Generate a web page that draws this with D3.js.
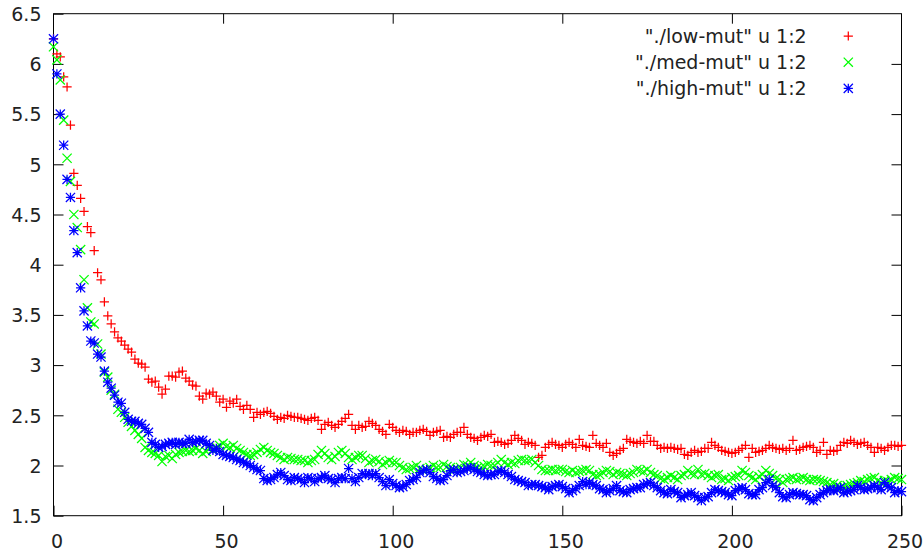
<!DOCTYPE html>
<html>
<head>
<meta charset="utf-8">
<script src="https://cdn.jsdelivr.net/npm/d3@7"></script>
<style>
  html, body { margin: 0; padding: 0; background: #fff; }
  svg { display: block; }
  text { font-family: "DejaVu Sans", sans-serif; }
</style>
</head>
<body>
<svg id="chart" width="924" height="554"></svg>
<script>
// ---- data (generation index 0..250) ----
const seriesNames = ['"./low-mut" u 1:2', '"./med-mut" u 1:2', '"./high-mut" u 1:2'];
const seriesColors = ["#ff0000", "#00ff00", "#0000ff"];
const xTicks = [0, 50, 100, 150, 200, 250];
const yTicks = [1.5, 2, 2.5, 3, 3.5, 4, 4.5, 5, 5.5, 6, 6.5];
const yTickLabels = ["1.5", "2", "2.5", "3", "3.5", "4", "4.5", "5", "5.5", "6", "6.5"];

const lowMut = [
 6.25,6.10,6.07,5.87,5.77,5.39,4.91,4.79,4.66,4.53,
 4.38,4.32,4.14,3.92,3.85,3.63,3.49,3.41,3.33,3.27,
 3.24,3.20,3.16,3.13,3.06,3.02,3.01,2.98,2.86,2.83,
 2.84,2.78,2.71,2.76,2.89,2.89,2.88,2.93,2.94,2.87,
 2.84,2.80,2.79,2.69,2.66,2.72,2.71,2.73,2.69,2.63,
 2.66,2.58,2.64,2.62,2.66,2.59,2.56,2.60,2.56,2.48,
 2.53,2.51,2.53,2.54,2.52,2.49,2.46,2.48,2.47,2.50,
 2.49,2.48,2.48,2.47,2.46,2.45,2.47,2.48,2.45,2.36,
 2.41,2.43,2.40,2.38,2.41,2.44,2.47,2.51,2.40,2.36,
 2.40,2.38,2.39,2.44,2.42,2.40,2.36,2.34,2.31,2.41,
 2.38,2.35,2.33,2.35,2.34,2.31,2.33,2.33,2.35,2.36,
 2.34,2.30,2.33,2.34,2.35,2.28,2.29,2.28,2.31,2.33,
 2.33,2.38,2.31,2.28,2.27,2.25,2.28,2.30,2.29,2.31,
 2.23,2.24,2.23,2.21,2.22,2.25,2.30,2.27,2.25,2.21,
 2.23,2.22,2.20,2.08,2.10,2.18,2.21,2.23,2.21,2.20,
 2.18,2.21,2.23,2.21,2.18,2.26,2.20,2.19,2.18,2.30,
 2.22,2.20,2.18,2.22,2.13,2.10,2.12,2.15,2.17,2.26,
 2.24,2.23,2.22,2.24,2.22,2.30,2.24,2.24,2.20,2.17,
 2.18,2.17,2.18,2.17,2.16,2.17,2.11,2.10,2.13,2.15,
 2.13,2.14,2.17,2.17,2.23,2.20,2.18,2.15,2.14,2.13,
 2.12,2.13,2.15,2.17,2.20,2.08,2.17,2.13,2.14,2.15,
 2.17,2.20,2.18,2.17,2.16,2.17,2.15,2.17,2.25,2.15,
 2.16,2.18,2.19,2.20,2.18,2.13,2.15,2.23,2.11,2.15,
 2.14,2.15,2.20,2.23,2.22,2.25,2.23,2.21,2.22,2.23,
 2.20,2.18,2.13,2.18,2.17,2.15,2.18,2.20,2.20,2.19,
 2.20
];

const medMut = [
 6.17,6.04,5.84,5.44,5.06,4.83,4.50,4.37,4.15,3.85,
 3.57,3.43,3.41,3.21,3.11,2.93,2.88,2.75,2.71,2.56,
 2.53,2.48,2.43,2.39,2.35,2.31,2.27,2.18,2.15,2.13,
 2.12,2.10,2.04,2.09,2.10,2.07,2.11,2.13,2.14,2.15,
 2.14,2.15,2.17,2.15,2.12,2.14,2.17,2.16,2.18,2.20,
 2.22,2.19,2.18,2.20,2.17,2.15,2.13,2.11,2.10,2.11,
 2.13,2.16,2.18,2.15,2.13,2.12,2.10,2.08,2.06,2.08,
 2.07,2.06,2.06,2.05,2.05,2.03,2.05,2.06,2.11,2.15,
 2.12,2.08,2.06,2.09,2.13,2.15,2.12,2.08,2.06,2.08,
 2.10,2.10,2.07,2.03,2.05,2.06,2.04,2.01,2.03,2.05,
 2.03,2.03,2.00,1.98,1.96,1.97,1.98,2.00,1.97,1.95,
 1.96,1.98,2.00,1.98,1.98,2.01,1.99,1.98,1.95,1.97,
 1.98,2.01,2.00,2.03,2.00,1.98,1.98,1.99,2.01,2.00,
 2.00,2.03,2.06,2.03,2.01,2.03,2.02,2.05,2.06,2.05,
 2.05,2.06,2.03,2.00,1.96,1.95,1.95,1.96,1.95,1.96,
 1.96,1.94,1.93,1.95,1.93,1.94,1.95,1.96,1.95,1.91,
 1.90,1.91,1.93,1.95,1.94,1.91,1.93,1.92,1.91,1.90,
 1.92,1.93,1.96,1.95,1.94,1.96,1.93,1.91,1.90,1.87,
 1.86,1.88,1.90,1.88,1.86,1.90,1.91,1.95,1.92,1.91,
 1.96,1.91,1.92,1.90,1.88,1.90,1.91,1.86,1.87,1.85,
 1.88,1.89,1.90,1.95,1.93,1.90,1.88,1.86,1.89,1.91,
 1.95,1.92,1.90,1.87,1.86,1.83,1.86,1.87,1.88,1.86,
 1.87,1.88,1.86,1.85,1.86,1.86,1.85,1.84,1.83,1.81,
 1.82,1.80,1.78,1.79,1.80,1.81,1.82,1.83,1.85,1.84,
 1.86,1.87,1.88,1.85,1.83,1.85,1.84,1.86,1.88,1.87,
 1.86
];

const highMut = [
 6.25,5.90,5.50,5.19,4.85,4.67,4.34,4.12,3.77,3.54,
 3.39,3.24,3.22,3.11,3.08,2.94,2.83,2.77,2.70,2.63,
 2.62,2.53,2.46,2.44,2.44,2.42,2.41,2.37,2.33,2.23,
 2.21,2.18,2.19,2.21,2.22,2.23,2.21,2.23,2.22,2.22,
 2.26,2.23,2.24,2.25,2.25,2.22,2.20,2.15,2.17,2.14,
 2.11,2.10,2.09,2.08,2.06,2.05,2.03,2.02,2.00,1.98,
 1.96,1.95,1.87,1.85,1.86,1.88,1.91,1.93,1.90,1.86,
 1.85,1.88,1.87,1.86,1.83,1.88,1.87,1.84,1.87,1.88,
 1.90,1.87,1.86,1.83,1.87,1.88,1.87,1.97,1.87,1.84,
 1.88,1.92,1.91,1.92,1.90,1.92,1.88,1.84,1.80,1.86,
 1.82,1.80,1.78,1.79,1.81,1.85,1.86,1.88,1.93,1.95,
 1.96,1.93,1.89,1.87,1.85,1.86,1.90,1.95,1.96,1.93,
 1.94,1.95,1.97,1.98,1.96,1.94,1.93,1.91,1.90,1.91,
 1.91,1.94,1.95,1.93,1.91,1.89,1.86,1.85,1.84,1.83,
 1.80,1.81,1.81,1.80,1.79,1.78,1.76,1.79,1.80,1.81,
 1.79,1.77,1.73,1.75,1.77,1.80,1.84,1.81,1.83,1.81,
 1.80,1.77,1.76,1.73,1.75,1.77,1.80,1.75,1.74,1.73,
 1.76,1.77,1.78,1.78,1.81,1.82,1.83,1.80,1.78,1.75,
 1.73,1.72,1.76,1.74,1.73,1.68,1.70,1.71,1.73,1.70,
 1.68,1.65,1.68,1.69,1.73,1.76,1.75,1.74,1.73,1.71,
 1.70,1.75,1.77,1.78,1.76,1.72,1.71,1.71,1.76,1.78,
 1.83,1.86,1.80,1.78,1.73,1.69,1.68,1.71,1.73,1.72,
 1.71,1.71,1.70,1.66,1.65,1.68,1.71,1.73,1.75,1.76,
 1.75,1.76,1.78,1.73,1.74,1.75,1.76,1.80,1.78,1.76,
 1.77,1.78,1.80,1.78,1.76,1.83,1.79,1.78,1.73,1.75,
 1.74
];

const seriesValues = [lowMut, medMut, highMut];

// ---- layout ----
const svg = d3.select("#chart");
const L = 53.5, R = 901.5, T = 13.7, B = 515.7;
const x = d3.scaleLinear().domain([0, 250]).range([L, R]);
const y = d3.scaleLinear().domain([1.5, 6.5]).range([B, T]);
const FS = 19;
const tickLen = 10;

// axes
const gBottom = svg.append("g").attr("transform", `translate(0,${B})`)
  .call(d3.axisBottom(x).tickValues(xTicks).tickFormat(d3.format("d"))
    .tickSize(-tickLen).tickSizeOuter(0).tickPadding(19));
const gTop = svg.append("g").attr("transform", `translate(0,${T})`)
  .call(d3.axisTop(x).tickValues(xTicks.slice(1, -1)).tickFormat(() => "")
    .tickSize(-tickLen).tickSizeOuter(0));
const gLeft = svg.append("g").attr("transform", `translate(${L},0)`)
  .call(d3.axisLeft(y).tickValues(yTicks).tickFormat((d, i) => yTickLabels[i])
    .tickSize(-tickLen).tickSizeOuter(0).tickPadding(12));
const gRight = svg.append("g").attr("transform", `translate(${R},0)`)
  .call(d3.axisRight(y).tickValues(yTicks.slice(1, -1)).tickFormat(() => "")
    .tickSize(-tickLen).tickSizeOuter(0));

[gBottom, gTop, gLeft, gRight].forEach(g => {
  g.select(".domain").remove();
  g.selectAll(".tick line").attr("stroke", "#000").attr("stroke-width", 1);
  g.selectAll(".tick text").attr("fill", "#222").style("font-size", FS + "px")
    .style("font-family", '"DejaVu Sans", sans-serif');
});
gBottom.selectAll(".tick text").attr("dx", 3);
gLeft.selectAll(".tick text").attr("dy", "0.36em");

svg.append("rect").attr("x", L).attr("y", T).attr("width", R - L).attr("height", B - T)
  .attr("fill", "none").attr("stroke", "#000").attr("stroke-width", 1);

// marker shapes (gnuplot point types 1, 2, 3)
const s = 4.6;
const plusPath = `M${-s},0H${s}M0,${-s}V${s}`;
const crossPath = `M${-s},${-s}L${s},${s}M${-s},${s}L${s},${-s}`;
const starPath = plusPath + crossPath;
const markerPaths = [plusPath, crossPath, starPath];

const plot = svg.append("g");
seriesValues.forEach((vals, si) => {
  plot.append("g").selectAll("path").data(vals).join("path")
    .attr("d", markerPaths[si])
    .attr("transform", (d, i) => `translate(${x(i)},${y(d)})`)
    .attr("fill", "none").attr("stroke", seriesColors[si]).attr("stroke-width", 1.25);
});

// legend
const legX = 806.7, legMX = 848.3, legY0 = 36, legDY = 26.2;
const leg = svg.append("g");
seriesNames.forEach((name, i) => {
  leg.append("text").attr("x", legX).attr("y", legY0 + i * legDY).attr("dy", "0.36em")
    .attr("text-anchor", "end").attr("fill", "#222").style("font-size", FS + "px")
    .text(name);
  leg.append("path").attr("d", markerPaths[i])
    .attr("transform", `translate(${legMX},${legY0 + i * legDY})`)
    .attr("fill", "none").attr("stroke", seriesColors[i]).attr("stroke-width", 1.25);
});
</script>
</body>
</html>
